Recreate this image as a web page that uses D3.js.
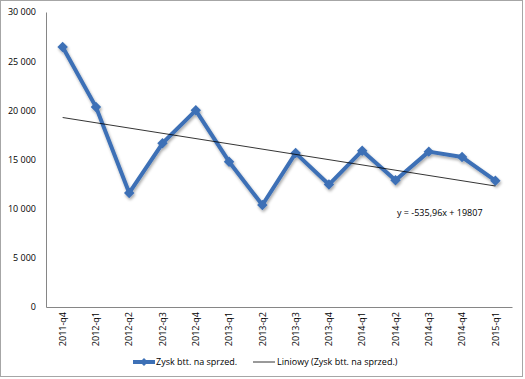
<!DOCTYPE html>
<html>
<head>
<meta charset="utf-8">
<script src="https://cdn.jsdelivr.net/npm/d3@7"></script>
<style>
  body { margin: 0; background: #fff; }
  text { font-family: "Open Sans", "Liberation Sans", sans-serif; fill: #000; }
</style>
</head>
<body>
<div id="chart"></div>
<script>
var width = 525,
    height = 379;

// data
var categories = ["2011-q4", "2012-q1", "2012-q2", "2012-q3", "2012-q4", "2013-q1", "2013-q2",
                  "2013-q3", "2013-q4", "2014-q1", "2014-q2", "2014-q3", "2014-q4", "2015-q1"];
var values = [26450, 20350, 11600, 16650, 20000, 14780, 10370, 15650, 12450, 15900, 12900, 15800, 15250, 12850];
var yTicks = [0, 5000, 10000, 15000, 20000, 25000, 30000];
var trendSlope = -535.96,
    trendIntercept = 19807;
var trendLabel = "y = -535,96x + 19807";
var seriesName = "Zysk btt. na sprzed.";
var trendName = "Liniowy (Zysk btt. na sprzed.)";

var svg = d3.select("#chart")
  .append("svg")
    .attr("width", width)
    .attr("height", height);

// outer chart border
svg.append("rect")
  .attr("x", 0.5).attr("y", 0.5)
  .attr("width", 522).attr("height", 376)
  .attr("fill", "#fff")
  .attr("stroke", "#a6a6a6");

var plot = { left: 46, right: 512, top: 12, bottom: 307 };

var x = d3.scaleBand()
  .domain(categories)
  .range([plot.left, plot.right]);

var y = d3.scaleLinear()
  .domain([0, 30000])
  .range([plot.bottom, plot.top]);

var fmt = function(d) { return d3.format(",")(d).replace(/,/g, " "); };

// y axis
var yAxis = svg.append("g")
  .attr("transform", "translate(" + plot.left + ",0)")
  .call(d3.axisLeft(y).tickValues(yTicks).tickSize(0).tickPadding(10).tickFormat(fmt));
yAxis.select(".domain").attr("stroke", "#868686");
yAxis.selectAll("text").style("font-size", "9px");

// x axis
var xAxis = svg.append("g")
  .attr("transform", "translate(0," + plot.bottom + ")")
  .call(d3.axisBottom(x).tickSize(0).tickSizeOuter(0));
xAxis.select(".domain").attr("stroke", "#868686");
xAxis.selectAll("text")
  .style("font-size", "9px")
  .attr("text-anchor", "end")
  .attr("dy", "0.35em")
  .attr("transform", "translate(0,5) rotate(-90)")
  .attr("x", 0)
  .attr("y", 0);

// shadow
var defs = svg.append("defs");
var f = defs.append("filter").attr("id", "shadow")
  .attr("x", "-20%").attr("y", "-20%").attr("width", "140%").attr("height", "140%");
f.append("feGaussianBlur").attr("in", "SourceAlpha").attr("stdDeviation", 1.5).attr("result", "blur");
f.append("feOffset").attr("in", "blur").attr("dx", 1).attr("dy", 2).attr("result", "off");
f.append("feComponentTransfer").attr("in", "off").attr("result", "sh")
  .append("feFuncA").attr("type", "linear").attr("slope", 0.35);
var merge = f.append("feMerge");
merge.append("feMergeNode").attr("in", "sh");
merge.append("feMergeNode").attr("in", "SourceGraphic");

var cx = function(d, i) { return x(categories[i]) + x.bandwidth() / 2; };

var line = d3.line()
  .x(function(d, i) { return cx(d, i); })
  .y(function(d) { return y(d); });

var series = svg.append("g").attr("filter", "url(#shadow)");

series.append("path")
  .datum(values)
  .attr("d", line)
  .attr("fill", "none")
  .attr("stroke", "#3d70b6")
  .attr("stroke-width", 4)
  .attr("stroke-linejoin", "round");

series.selectAll(".marker")
  .data(values)
  .enter()
  .append("path")
    .attr("class", "marker")
    .attr("d", d3.symbol().type(d3.symbolDiamond2).size(70))
    .attr("transform", function(d, i) { return "translate(" + cx(d, i) + "," + y(d) + ")"; })
    .attr("fill", "#3d70b6");

// linear trend line
var n = categories.length;
svg.append("line")
  .attr("x1", cx(null, 0))
  .attr("y1", y(trendSlope * 1 + trendIntercept))
  .attr("x2", cx(null, n - 1))
  .attr("y2", y(trendSlope * n + trendIntercept))
  .attr("stroke", "#000")
  .attr("stroke-width", 0.8);

svg.append("text")
  .attr("x", 397)
  .attr("y", 216)
  .style("font-size", "9px")
  .text(trendLabel);

// legend
var legend = svg.append("g").attr("transform", "translate(0,362)");
legend.append("line")
  .attr("x1", 133).attr("x2", 155).attr("y1", 0).attr("y2", 0)
  .attr("stroke", "#3d70b6").attr("stroke-width", 4);
legend.append("path")
  .attr("d", d3.symbol().type(d3.symbolDiamond2).size(40))
  .attr("transform", "translate(144,0)")
  .attr("fill", "#3d70b6");
legend.append("text")
  .attr("x", 156).attr("y", 0).attr("dy", "0.35em")
  .style("font-size", "9px")
  .text(seriesName);
legend.append("line")
  .attr("x1", 253).attr("x2", 275).attr("y1", 0).attr("y2", 0)
  .attr("stroke", "#000").attr("stroke-width", 0.8);
legend.append("text")
  .attr("x", 277).attr("y", 0).attr("dy", "0.35em")
  .style("font-size", "9px")
  .text(trendName);
</script>
</body>
</html>
